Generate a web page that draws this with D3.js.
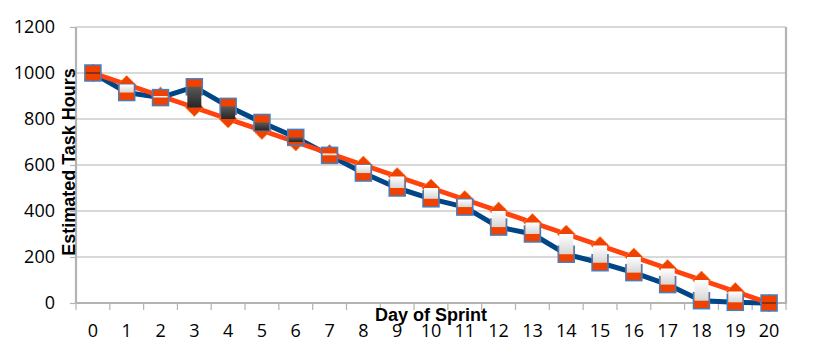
<!DOCTYPE html>
<html>
<head>
<meta charset="utf-8">
<script src="https://cdn.jsdelivr.net/npm/d3@7"></script>
<style>
  html, body { margin: 0; padding: 0; background: #fff; }
  svg { display: block; }
</style>
</head>
<body>
<svg id="chart" width="814" height="357"></svg>
<script>
const days = ["0","1","2","3","4","5","6","7","8","9","10","11","12","13","14","15","16","17","18","19","20"];
const actualHours = [1000, 915, 893, 940, 855, 785, 720, 642, 565, 500, 453, 417, 330, 300, 212, 175, 132, 80, 10, 3, 0];
const idealHours  = [1000, 950, 900, 850, 800, 750, 700, 650, 600, 550, 500, 450, 400, 350, 300, 250, 200, 150, 100, 50, 0];
const yTicks = [0, 200, 400, 600, 800, 1000, 1200];
const yTitle = "Estimated Task Hours";
const xTitle = "Day of Sprint";

const svg = d3.select("#chart");
const pL = 76, pR = 786, pT = 27, pB = 303;
const tickFont = "'Open Sans', Lato, sans-serif";
const titleFont = "'Liberation Sans', Arial, sans-serif";

const x = d3.scaleBand().domain(days).range([pL, pR]).paddingInner(0).paddingOuter(0);
const cx = d => x(d) + x.bandwidth() / 2;
const y = d3.scaleLinear().domain([0, 1200]).range([pB, pT]);

const defs = svg.append("defs");
const gW = defs.append("linearGradient").attr("id", "gWhite").attr("x1", 0).attr("y1", 0).attr("x2", 0).attr("y2", 1);
gW.append("stop").attr("offset", "0%").attr("stop-color", "#ffffff");
gW.append("stop").attr("offset", "100%").attr("stop-color", "#d6d6d6");
const gB = defs.append("linearGradient").attr("id", "gBlack").attr("x1", 0).attr("y1", 0).attr("x2", 0).attr("y2", 1);
gB.append("stop").attr("offset", "0%").attr("stop-color", "#5a5a5a");
gB.append("stop").attr("offset", "100%").attr("stop-color", "#262626");

// gridlines
svg.append("g").selectAll("line").data(yTicks.filter(t => t > 0)).join("line")
  .attr("x1", pL).attr("x2", pR)
  .attr("y1", d => y(d)).attr("y2", d => y(d))
  .attr("stroke", "#b3b3b3").attr("stroke-width", 1.2);

// y axis
const yAxis = d3.axisLeft(y).tickValues(yTicks).tickSize(6).tickPadding(15).tickFormat(d3.format("d"));
const gy = svg.append("g").attr("transform", `translate(${pL},0)`).call(yAxis);
gy.select(".domain").remove();
gy.selectAll(".tick line").attr("stroke", "#b3b3b3").attr("stroke-width", 1.2);
gy.selectAll(".tick text").style("font-size", "18px").attr("fill", "#000")
  .style("font-family", tickFont);

// x axis ticks at band boundaries
const bounds = days.map(d => x(d)).concat([pR]);
svg.append("g").selectAll("line").data(bounds).join("line")
  .attr("x1", d => d).attr("x2", d => d)
  .attr("y1", pB).attr("y2", pB + 7)
  .attr("stroke", "#b3b3b3").attr("stroke-width", 1.2);
svg.append("g").selectAll("text").data(days).join("text")
  .attr("x", d => cx(d)).attr("y", 337)
  .attr("text-anchor", "middle").attr("fill", "#000")
  .style("font-size", "18px").style("font-family", tickFont)
  .text(d => d);

// plot frame
svg.append("line").attr("x1", pL).attr("x2", pL).attr("y1", pT).attr("y2", pB + 1)
  .attr("stroke", "#b3b3b3").attr("stroke-width", 2.2);
svg.append("line").attr("x1", pR).attr("x2", pR).attr("y1", pT).attr("y2", pB + 1)
  .attr("stroke", "#b3b3b3").attr("stroke-width", 2.2);
svg.append("line").attr("x1", pL).attr("x2", pR).attr("y1", pB).attr("y2", pB)
  .attr("stroke", "#b3b3b3").attr("stroke-width", 2.2);

// lines
const lineGen = vals => d3.line().x((v, i) => cx(days[i])).y(v => y(v))(vals);
svg.append("path").attr("d", lineGen(actualHours)).attr("fill", "none")
  .attr("stroke", "#004586").attr("stroke-width", 5).attr("stroke-linejoin", "round");
svg.append("path").attr("d", lineGen(idealHours)).attr("fill", "none")
  .attr("stroke", "#ff420e").attr("stroke-width", 5).attr("stroke-linejoin", "round");

// diamonds (ideal)
const dm = 9;
svg.append("g").selectAll("path").data(idealHours).join("path")
  .attr("d", (v, i) => {
    const px = cx(days[i]), py = y(v);
    return `M${px},${py - dm}L${px + dm},${py}L${px},${py + dm}L${px - dm},${py}Z`;
  })
  .attr("fill", "#f04100").attr("stroke", "#ff8c3a").attr("stroke-width", 1)
  .attr("stroke-dasharray", "2,1");

// squares (actual)
const sq = 16;
svg.append("g").selectAll("rect").data(actualHours).join("rect")
  .attr("x", (v, i) => cx(days[i]) - sq / 2)
  .attr("y", v => y(v) - sq / 2)
  .attr("width", sq).attr("height", sq)
  .attr("fill", "#f04100").attr("stroke", "#4a7ebb").attr("stroke-width", 1.5);

// up/down bars
const bw = 14;
const barData = actualHours.map((a, i) => ({ day: days[i], a, b: idealHours[i] }));
svg.append("g").selectAll("rect").data(barData.filter(d => d.a !== d.b)).join("rect")
  .attr("x", d => cx(d.day) - bw / 2)
  .attr("y", d => y(Math.max(d.a, d.b)))
  .attr("width", bw)
  .attr("height", d => Math.abs(y(d.a) - y(d.b)))
  .attr("fill", d => d.a > d.b ? "url(#gBlack)" : "url(#gWhite)");
svg.append("g").selectAll("line").data(barData.filter(d => d.a === d.b)).join("line")
  .attr("x1", d => cx(d.day) - bw / 2).attr("x2", d => cx(d.day) + bw / 2)
  .attr("y1", d => y(d.a)).attr("y2", d => y(d.a))
  .attr("stroke", "#222").attr("stroke-width", 1);

// titles
svg.append("text").attr("transform", `translate(75,162) rotate(-90)`)
  .attr("text-anchor", "middle").attr("fill", "#000")
  .style("font-size", "18px").style("font-weight", "bold").style("font-family", titleFont)
  .text(yTitle);
svg.append("text").attr("x", 431).attr("y", 321)
  .attr("text-anchor", "middle").attr("fill", "#000")
  .style("font-size", "18px").style("font-weight", "bold").style("font-family", titleFont)
  .text(xTitle);
</script>
</body>
</html>
